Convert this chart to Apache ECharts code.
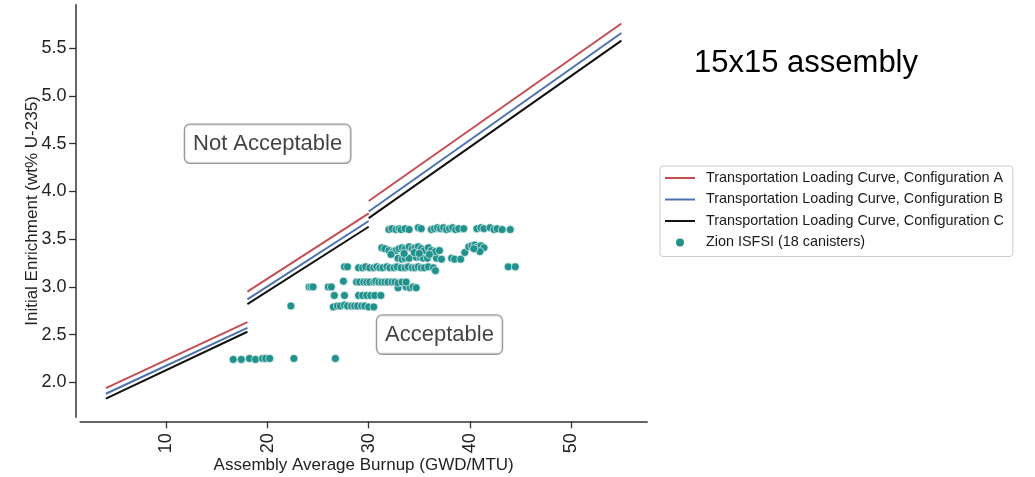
<!DOCTYPE html>
<html>
<head>
<meta charset="utf-8">
<script src="https://cdn.jsdelivr.net/npm/echarts@6/dist/echarts.min.js"></script>
<style>
html,body{margin:0;padding:0;background:#fff;}
#chart{width:1035px;height:477px;}
</style>
</head>
<body>
<div id="chart"></div>
<script>
// ---- data ----
const seriesNames = [
  'Transportation Loading Curve, Configuration A',
  'Transportation Loading Curve, Configuration B',
  'Transportation Loading Curve, Configuration C',
  'Zion ISFSI (18 canisters)'
];
const segmentBurnup = [[4, 18], [18, 30], [30, 55]];
const curveA = [[1.94, 2.63], [2.95, 3.77], [3.90, 5.76]];
const curveB = [[1.88, 2.57], [2.87, 3.69], [3.79, 5.66]];
const curveC = [[1.83, 2.53], [2.82, 3.63], [3.72, 5.58]];
const zionPoints = [
  [16.6,2.24],[17.4,2.24],[18.2,2.25],[18.8,2.24],[19.5,2.25],[19.8,2.25],[20.2,2.25],[22.6,2.25],[26.7,2.25],
  [22.3,2.80],
  [26.5,2.79],[26.9,2.80],[27.2,2.80],[27.6,2.81],[27.9,2.80],[28.3,2.80],[28.6,2.80],[28.9,2.80],[29.3,2.80],[29.6,2.80],[30.0,2.79],[30.5,2.79],
  [26.6,2.91],[27.6,2.91],[29.0,2.91],[29.4,2.91],[29.8,2.91],[30.2,2.91],[30.6,2.91],[31.2,2.91],
  [24.1,3.00],[24.3,3.00],[24.5,3.00],[26.0,3.00],[26.3,3.00],[32.9,2.99],[33.7,3.00],[34.1,2.99],[34.4,3.00],[34.7,2.99],
  [27.5,3.06],[28.8,3.05],[29.1,3.05],[29.5,3.05],[29.8,3.05],[30.1,3.05],[30.5,3.05],[30.7,3.06],[31.0,3.05],[31.3,3.05],[31.6,3.05],[31.9,3.05],[32.3,3.05],[32.6,3.05],[32.9,3.04],[33.3,3.05],[33.7,3.05],
  [27.6,3.21],[27.9,3.21],[29.0,3.20],[29.4,3.20],[29.7,3.21],[30.1,3.20],[30.5,3.20],[30.8,3.21],[31.1,3.20],[31.4,3.20],[31.8,3.21],[32.1,3.20],[32.5,3.20],[32.8,3.21],[33.2,3.20],[33.6,3.20],[33.9,3.21],[34.3,3.20],[34.6,3.20],[34.9,3.21],[35.2,3.20],[35.5,3.20],[35.9,3.21],[36.4,3.20],[36.6,3.17],[43.8,3.21],[44.5,3.21],
  [32.9,3.30],[33.3,3.29],[33.6,3.30],[34.0,3.30],[34.7,3.31],[35.1,3.31],[35.4,3.30],[35.8,3.30],[36.7,3.30],[37.2,3.29],[38.2,3.30],[38.5,3.29],[39.1,3.29],
  [31.3,3.41],[31.6,3.40],[32.0,3.38],[32.4,3.37],[32.7,3.38],[33.0,3.40],[33.3,3.41],[33.6,3.40],[34.0,3.42],[34.3,3.40],[34.6,3.41],[34.9,3.42],[35.2,3.40],[35.5,3.38],[35.9,3.41],[36.2,3.38],[36.6,3.37],[37.0,3.38],
  [32.2,3.34],[33.5,3.35],[34.5,3.36],[35.0,3.35],[36.0,3.34],
  [39.5,3.36],[39.9,3.42],[40.2,3.43],[40.5,3.44],[40.8,3.42],[41.1,3.43],[41.4,3.41],[41.0,3.37],[40.4,3.40],
  [32.0,3.60],[32.3,3.61],[32.7,3.60],[33.0,3.61],[33.2,3.60],[33.6,3.61],[34.0,3.60],[34.9,3.62],[35.2,3.61],[36.2,3.60],[36.5,3.61],[36.8,3.62],[37.1,3.61],[37.4,3.62],[37.7,3.60],[38.0,3.61],[38.3,3.62],[38.6,3.60],[38.9,3.61],[39.4,3.61],[40.7,3.61],[41.1,3.62],[41.4,3.61],[42.0,3.62],[42.4,3.60],[42.7,3.61],[43.2,3.60],[44.0,3.60]
];
const xTicks = [10, 20, 30, 40, 50];
const yTicks = [2.0, 2.5, 3.0, 3.5, 4.0, 4.5, 5.0, 5.5];
const annotations = [
  {name: 'Not Acceptable', value: [20, 4.5]},
  {name: 'Acceptable', value: [37, 2.5]}
];

// ---- build ----
function curveData(curve) {
  const out = [];
  segmentBurnup.forEach((seg, i) => {
    if (i > 0) out.push('-');
    out.push([seg[0], curve[i][0]]);
    out.push([seg[1], curve[i][1]]);
  });
  return out;
}

const FONT = 'Liberation Sans, Arial, sans-serif';
const AX = '#333333';
const LINE_ICON = 'path://M0,0 L30,0 L30,2 L0,2 Z';
const chart = echarts.init(document.getElementById('chart'), null, {renderer: 'canvas'});

function lineSeries(name, curve, color) {
  return {
    name: name, type: 'line', data: curveData(curve), symbol: 'none', showSymbol: false,
    connectNulls: false, lineStyle: {color: color, width: 2}, itemStyle: {color: color},
    animation: false, silent: true
  };
}

chart.setOption({
  animation: false,
  title: {
    text: '15x15 assembly', left: 694, top: 48, padding: 0,
    textStyle: {fontFamily: FONT, fontSize: 31, fontWeight: 'normal', color: '#000'}
  },
  grid: {left: 80.1, right: 387.8, top: 4.7, bottom: 59.7, containLabel: false, outerBoundsMode: 'none'},
  legend: {
    data: [
      {name: seriesNames[0], icon: LINE_ICON},
      {name: seriesNames[1], icon: LINE_ICON},
      {name: seriesNames[2], icon: LINE_ICON},
      {name: seriesNames[3], icon: 'circle'}
    ],
    orient: 'vertical', left: 660, top: 166,
    padding: [5, 9, 7, 5],
    itemWidth: 30, itemHeight: 10, itemGap: 7.5,
    borderColor: '#cccccc', borderWidth: 1, borderRadius: 3,
    textStyle: {fontFamily: FONT, fontSize: 14.4, color: '#1a1a1a', lineHeight: 14, padding: [0, 0, 0, 6]}
  },
  xAxis: {
    type: 'value', min: 1.45, max: 57.55, offset: 4,
    name: 'Assembly Average Burnup (GWD/MTU)', nameLocation: 'middle', nameGap: 36, nameMoveOverlap: false,
    nameTextStyle: {fontFamily: FONT, fontSize: 17, color: '#222'},
    axisLine: {show: true, lineStyle: {color: AX, width: 1.5}},
    axisTick: {show: true, length: 7, lineStyle: {color: AX, width: 1.3}, customValues: xTicks},
    axisLabel: {fontFamily: FONT, fontSize: 18, color: '#222', rotate: 90, margin: 12, customValues: xTicks},
    splitLine: {show: false}
  },
  yAxis: {
    type: 'value', min: 1.6335, max: 5.9565, offset: 4,
    name: 'Initial Enrichment (wt% U-235)', nameLocation: 'middle', nameGap: 35, nameRotate: 90, nameMoveOverlap: false,
    nameTextStyle: {fontFamily: FONT, fontSize: 17, color: '#222'},
    axisLine: {show: true, lineStyle: {color: AX, width: 1.5}},
    axisTick: {show: true, length: 7, lineStyle: {color: AX, width: 1.3}, customValues: yTicks},
    axisLabel: {fontFamily: FONT, fontSize: 18, color: '#222', margin: 9.5, customValues: yTicks,
      formatter: v => Number(v).toFixed(1)},
    splitLine: {show: false}
  },
  series: [
    lineSeries(seriesNames[0], curveA, '#c44e52'),
    lineSeries(seriesNames[1], curveB, '#4c72b0'),
    lineSeries(seriesNames[2], curveC, '#111111'),
    {
      name: seriesNames[3], type: 'scatter', data: zionPoints, symbol: 'circle', symbolSize: 8,
      itemStyle: {color: '#21918c', borderColor: '#ffffff', borderWidth: 0.6, opacity: 1},
      silent: true
    },
    {
      name: 'annotations', type: 'scatter', data: annotations, symbolSize: 1,
      itemStyle: {color: 'rgba(0,0,0,0)'}, silent: true, z: 10,
      label: {
        show: true, position: 'inside', formatter: p => p.name,
        fontFamily: FONT, fontSize: 22, color: '#111', lineHeight: 26,
        backgroundColor: '#ffffff', borderColor: '#808080', borderWidth: 1.3, borderRadius: 5,
        padding: [6, 8, 6, 8]
      },
      labelLayout: {hideOverlap: false}
    }
  ]
});
</script>
</body>
</html>
